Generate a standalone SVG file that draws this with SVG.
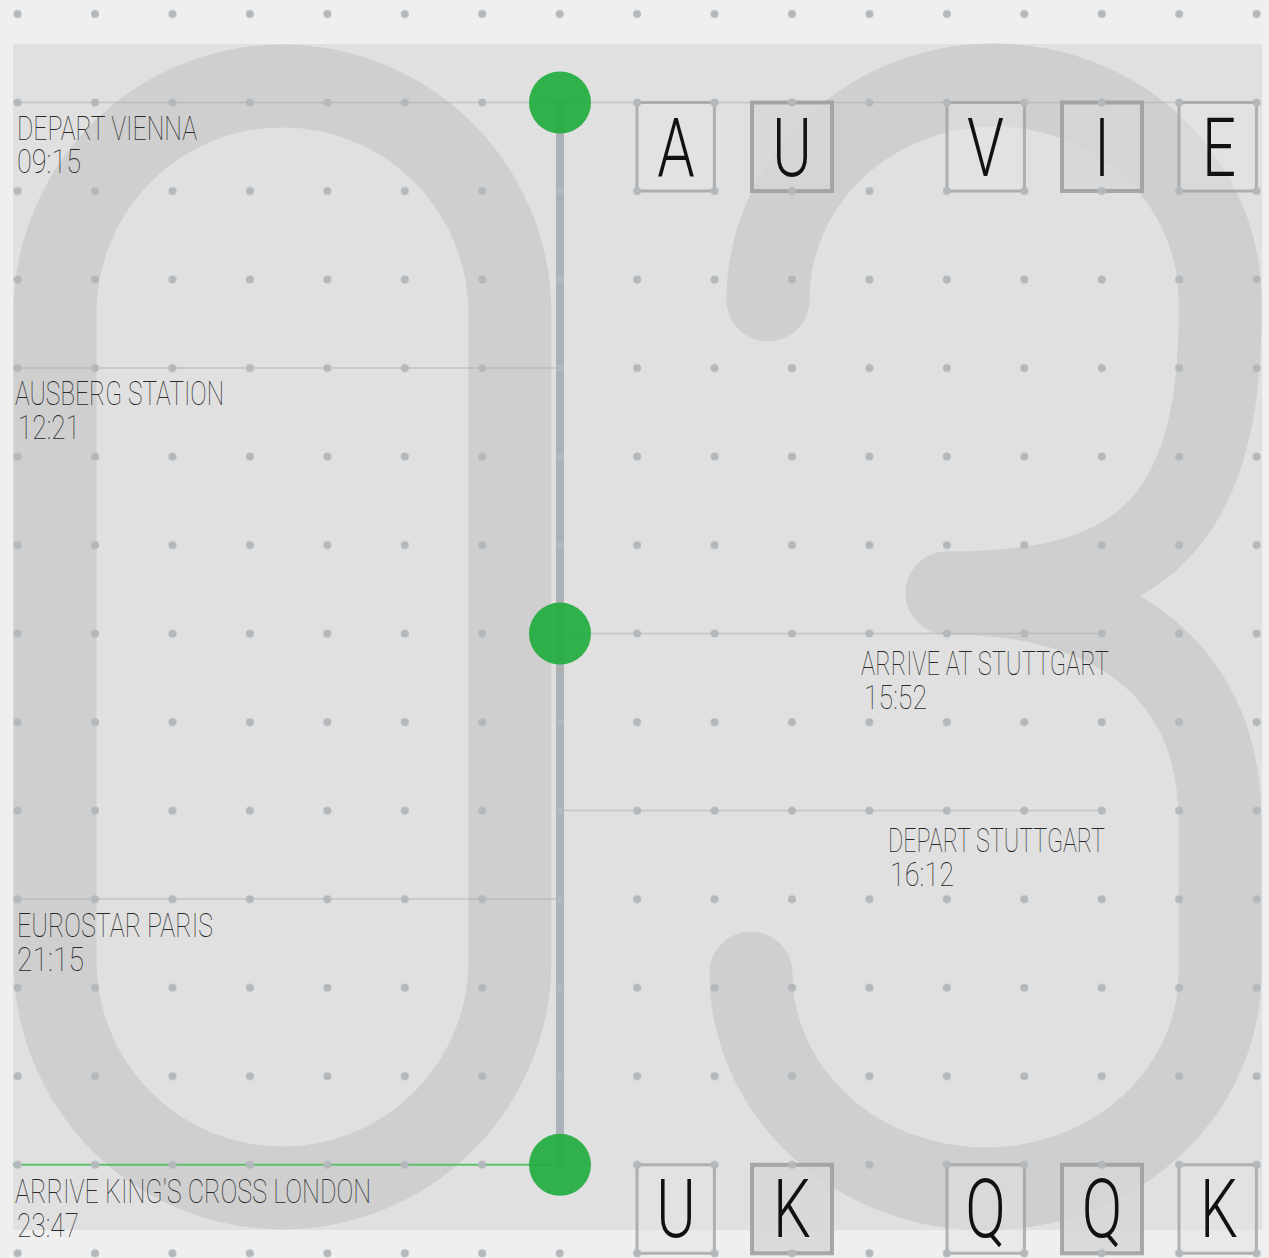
<svg xmlns="http://www.w3.org/2000/svg" width="1269" height="1258" viewBox="0 0 1269 1258">
<style>
.digit{fill:none;stroke:#cfcfcf;stroke-width:83;stroke-linecap:round;stroke-linejoin:round}
.hl{stroke:#a8a8a8;stroke-opacity:0.5;stroke-width:1.5}
.lbl{font-family:Roboto,"Liberation Sans",sans-serif;font-weight:100;font-size:33px;fill:#2a2a2a}
.tile-a{fill:#e4e4e4;fill-opacity:0.5;stroke:#9e9e9e;stroke-opacity:0.75;stroke-width:3}
.tile-b{fill:#d6d6d6;fill-opacity:0.85;stroke:#999;stroke-opacity:0.8;stroke-width:4}
.let{font-family:Roboto,"Liberation Sans",sans-serif;font-weight:300;font-size:81px;fill:#111;text-anchor:middle}
.stop{fill:#22ad3f;fill-opacity:0.92}
</style>
<defs>
<pattern id="dots" patternUnits="userSpaceOnUse" x="-21.12" y="-30.26" width="77.44" height="88.52">
<circle cx="38.72" cy="44.26" r="4" fill="#b3b8bc"/>
</pattern>
</defs>
<rect width="1269" height="1258" fill="#efefef"/>
<rect x="13" y="44" width="1249" height="1186" fill="#e0e0e0"/>
<g id="big-digits">
<path class="digit" d="M 55 313.5 A 227.5 227.5 0 0 1 510 313.5 L 510 960.5 A 227.5 227.5 0 0 1 55 960.5 Z"/>
<path class="digit" d="M 768 300 A 226 215 0 0 1 1220 300 C 1224 540 1125 593 947 593"/>
<path class="digit" d="M 947 593 C 1125 593 1220 680 1220 820 L 1220 973 A 234.5 216 0 0 1 751 973"/>
</g>
<g id="connectors">
<line class="hl" x1="13" y1="102.5" x2="1257" y2="102.5"/>
<line class="hl" x1="13" y1="368" x2="560" y2="368"/>
<line class="hl" x1="560" y1="633.6" x2="1102" y2="633.6"/>
<line class="hl" x1="560" y1="810.6" x2="1102" y2="810.6"/>
<line class="hl" x1="13" y1="899" x2="560" y2="899"/>
<line x1="13" y1="1164.8" x2="560" y2="1164.8" stroke="#5cbf6d" stroke-width="2"/>
<line x1="560" y1="102.5" x2="560" y2="1164.8" stroke="#9aa1a7" stroke-opacity="0.75" stroke-width="8"/>
</g>
<g id="tiles-top">
<g id="tile-A"><rect class="tile-a" x="637" y="102.5" width="77.4" height="88.5"/><text class="let" transform="translate(676,176) scale(0.74,1)">A</text></g>
<g id="tile-U1"><rect class="tile-b" x="752" y="102.5" width="80" height="88.5"/><text class="let" transform="translate(792,176) scale(0.74,1)">U</text></g>
<g id="tile-V"><rect class="tile-a" x="947" y="102.5" width="77.4" height="88.5"/><text class="let" transform="translate(985.5,176) scale(0.74,1)">V</text></g>
<g id="tile-I"><rect class="tile-b" x="1062" y="102.5" width="80" height="88.5"/><text class="let" transform="translate(1102,176) scale(0.74,1)">I</text></g>
<g id="tile-E"><rect class="tile-a" x="1179" y="102.5" width="77.4" height="88.5"/><text class="let" transform="translate(1219,176) scale(0.74,1)">E</text></g>
</g>
<g id="tiles-bottom">
<g id="tile-U2"><rect class="tile-a" x="637" y="1164.8" width="77.4" height="88.5"/><text class="let" transform="translate(676,1237) scale(0.74,1)">U</text></g>
<g id="tile-K1"><rect class="tile-b" x="752" y="1164.8" width="80" height="88.5"/><text class="let" transform="translate(792,1237) scale(0.74,1)">K</text></g>
<g id="tile-Q1"><rect class="tile-a" x="947" y="1164.8" width="77.4" height="88.5"/><text class="let" transform="translate(985.5,1237) scale(0.74,1)">Q</text></g>
<g id="tile-Q2"><rect class="tile-b" x="1062" y="1164.8" width="80" height="88.5"/><text class="let" transform="translate(1102,1237) scale(0.74,1)">Q</text></g>
<g id="tile-K2"><rect class="tile-a" x="1179" y="1164.8" width="77.4" height="88.5"/><text class="let" transform="translate(1219,1237) scale(0.74,1)">K</text></g>
</g>
<rect id="grid" width="1269" height="1258" fill="url(#dots)"/>
<g id="stop-vienna">
<circle class="stop" cx="560" cy="102.5" r="31"/>
<text class="lbl"><tspan x="17" y="140" textLength="180" lengthAdjust="spacingAndGlyphs">DEPART VIENNA</tspan><tspan x="17" y="173" textLength="64" lengthAdjust="spacingAndGlyphs">09:15</tspan></text>
</g>
<g id="stop-ausberg">
<text class="lbl"><tspan x="15" y="405" textLength="209" lengthAdjust="spacingAndGlyphs">AUSBERG STATION</tspan><tspan x="18" y="439" textLength="62" lengthAdjust="spacingAndGlyphs">12:21</tspan></text>
</g>
<g id="stop-stuttgart-arr">
<circle class="stop" cx="560" cy="633.6" r="31"/>
<text class="lbl"><tspan x="861" y="675" textLength="248" lengthAdjust="spacingAndGlyphs">ARRIVE AT STUTTGART</tspan><tspan x="864" y="709" textLength="63" lengthAdjust="spacingAndGlyphs">15:52</tspan></text>
</g>
<g id="stop-stuttgart-dep">
<text class="lbl"><tspan x="888" y="852" textLength="217" lengthAdjust="spacingAndGlyphs">DEPART STUTTGART</tspan><tspan x="890" y="886" textLength="64" lengthAdjust="spacingAndGlyphs">16:12</tspan></text>
</g>
<g id="stop-eurostar">
<text class="lbl"><tspan x="17" y="937" textLength="196" lengthAdjust="spacingAndGlyphs">EUROSTAR PARIS</tspan><tspan x="17" y="971" textLength="67" lengthAdjust="spacingAndGlyphs">21:15</tspan></text>
</g>
<g id="stop-london">
<circle class="stop" cx="560" cy="1164.8" r="31"/>
<text class="lbl"><tspan x="15" y="1203" textLength="356" lengthAdjust="spacingAndGlyphs">ARRIVE KING'S CROSS LONDON</tspan><tspan x="17" y="1237" textLength="62" lengthAdjust="spacingAndGlyphs">23:47</tspan></text>
</g>
</svg>
